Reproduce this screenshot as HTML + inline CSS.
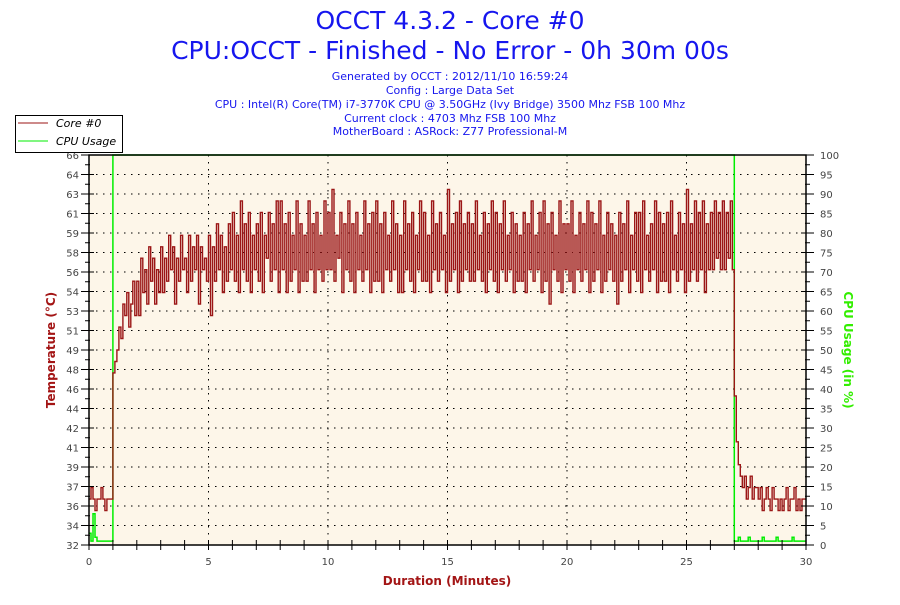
<!DOCTYPE html>
<html><head><meta charset="utf-8"><style>
body{margin:0;background:#fff;width:900px;height:600px;overflow:hidden;font-family:"Liberation Sans",sans-serif}
svg text{font-family:"DejaVu Sans","Liberation Sans",sans-serif}
</style></head><body>
<svg id="chart" width="900" height="600">
<text x="450" y="29" text-anchor="middle" font-size="25" fill="#1616ee">OCCT 4.3.2 - Core #0</text>
<text x="450" y="59" text-anchor="middle" font-size="25" fill="#1616ee">CPU:OCCT - Finished - No Error - 0h 30m 00s</text>
<g font-size="11" fill="#1616ee" text-anchor="middle">
<text x="450" y="80">Generated by OCCT : 2012/11/10 16:59:24</text>
<text x="450" y="94">Config : Large Data Set</text>
<text x="450" y="108">CPU : Intel(R) Core(TM) i7-3770K CPU @ 3.50GHz (Ivy Bridge) 3500 Mhz FSB 100 Mhz</text>
<text x="450" y="122">Current clock : 4703 Mhz FSB 100 Mhz</text>
<text x="450" y="135">MotherBoard : ASRock: Z77 Professional-M</text>
</g>
<rect x="89" y="155" width="717" height="390" fill="#fdf6e9"/>
<g id="grid"></g>
<g id="series"></g>
<g id="axes"></g>
<g>
<rect x="15.5" y="115.5" width="107" height="37" fill="#fff" stroke="#000"/>
<line x1="18" y1="123" x2="48" y2="123" stroke="#9b1616"/>
<text x="56" y="127" font-size="11" font-style="italic" fill="#000">Core #0</text>
<line x1="18" y1="141" x2="48" y2="141" stroke="#00ee00"/>
<text x="56" y="145" font-size="11" font-style="italic" fill="#000">CPU Usage</text>
</g>
<text transform="translate(55,350) rotate(-90)" text-anchor="middle" font-size="12" font-weight="bold" fill="#a31515">Temperature (°C)</text>
<text transform="translate(844,350) rotate(90)" text-anchor="middle" font-size="12" font-weight="bold" fill="#33ee00">CPU Usage (in %)</text>
<text x="447" y="585" text-anchor="middle" font-size="12" font-weight="bold" fill="#a31515">Duration (Minutes)</text>
</svg>
<script>
const xTicks=[0,5,10,15,20,25,30];
const tempTickLabels=[32,34,36,37,39,41,42,44,46,48,49,51,53,54,56,58,59,61,63,64,66];
const cpuTicks=[0,5,10,15,20,25,30,35,40,45,50,55,60,65,70,75,80,85,90,95,100];
const temps=[
36,37,36,35,36,36,37,36,35,36,36,36,
47,48,49,51,50,53,52,54,51,53,55,52,
55,52,57,54,56,53,58,55,57,53,56,54,
58,54,57,55,59,56,58,53,57,55,59,56,
57,54,59,55,58,56,59,53,58,56,57,55,
59,52,58,55,60,56,59,54,58,55,60,56,
61,55,59,54,62,56,60,55,61,54,59,56,
60,55,61,54,59,57,61,55,60,56,62,54,
62,56,60,54,61,55,59,56,62,54,60,55,
59,55,62,56,60,54,61,56,59,55,62,56,
61,56,63,55,59,57,61,54,60,56,62,55,
60,54,61,56,59,55,62,56,60,54,61,55,
62,55,60,54,61,56,59,55,62,56,60,54,
59,54,62,56,60,55,61,54,59,56,62,55,
61,55,59,54,62,56,60,55,61,56,59,54,
63,55,60,56,61,54,62,55,60,56,61,55,
60,55,62,56,59,55,61,54,60,56,62,55,
61,54,60,56,62,55,59,56,61,54,60,55,
59,55,61,54,60,56,62,55,59,56,61,54,
62,55,60,53,61,56,59,55,62,54,60,56,
60,55,62,54,59,56,61,55,60,56,62,54,
61,55,60,56,62,54,59,55,61,56,60,55,
59,53,61,55,60,56,62,54,59,56,61,55,
61,54,62,56,59,55,60,56,62,54,61,55,
60,55,61,54,62,56,59,55,61,56,60,54,
63,55,60,56,62,55,61,56,62,54,60,56,
61,56,62,57,61,56,62,56,61,57,62,56,
45,41,39,38,37,38,36,37,38,36,37,37,
36,37,35,36,37,36,35,37,36,36,35,36,
35,36,37,35,36,36,37,35,36,35,36,36,
36];
const cpuStart=[3,1,8,2,1,1,1,1,1,1,1,1];
const cpuTail=[1,1,2,1,1,1,1,2,1,1,1,1,1,1,2,1,1,1,1,1,1,2,1,1,1,1,1,1,1,2,1,1,1,1,1,1,1];
const cpu=cpuStart.slice();
for(let i=12;i<324;i++)cpu.push(100);
cpuTail.forEach(v=>cpu.push(v));
const L=89,R=806,T=155,B=545;
const xs=m=>L+m/30*(R-L);
const yT=t=>B-(t-32)/34*(B-T);
const yC=c=>B-c/100*(B-T);
const NS="http://www.w3.org/2000/svg";
function mk(tag,attrs,parent){const e=document.createElementNS(NS,tag);for(const k in attrs)e.setAttribute(k,attrs[k]);parent.appendChild(e);return e;}
const grid=document.getElementById('grid'),axes=document.getElementById('axes'),series=document.getElementById('series');
cpuTicks.forEach((c,i)=>{
 const y=yC(c);
 if(i>0&&i<cpuTicks.length-1){const g=mk('line',{x1:L,x2:R,y1:y,y2:y,stroke:'#000','stroke-dasharray':'1.5,5.5'},grid);
 
 }
 mk('line',{x1:L-8,x2:L+5,y1:y,y2:y,stroke:'#000'},axes);
 mk('line',{x1:R-5,x2:R+8,y1:y,y2:y,stroke:'#000'},axes);
 if(i<cpuTicks.length-1){const ym=yC(c+2.5);mk('line',{x1:L-4,x2:L+1,y1:ym,y2:ym,stroke:'#000'},axes);mk('line',{x1:R-1,x2:R+4,y1:ym,y2:ym,stroke:'#000'},axes);}
 const tl=mk('text',{x:L-10,y:y+4,'text-anchor':'end','font-size':'10',fill:'#444'},axes);tl.textContent=tempTickLabels[i];
 
 
 const cl=mk('text',{x:R+14,y:y+4,'font-size':'10',fill:'#444'},axes);cl.textContent=c;
 
 
});
for(let m=0;m<=30;m++){const x=xs(m);mk('line',{x1:x,x2:x,y1:B-5,y2:B+5,stroke:'#000'},axes);}
xTicks.forEach((m,i)=>{const x=xs(m);
 if(i>0&&i<xTicks.length-1){const g=mk('line',{x1:x,x2:x,y1:T,y2:B,stroke:'#000','stroke-dasharray':'1.5,5.5'},grid);
 
 }
 const t=mk('text',{x:x,y:B+20,'text-anchor':'middle','font-size':'10',fill:'#444'},axes);t.textContent=m;
 
 
});
function stepPath(vals,yf){
 const n=vals.length;let d='';
 vals.forEach((v,i)=>{const x=xs(i*30/(n-1)).toFixed(1),y=yf(v).toFixed(1);
  d+= i===0?('M'+x+','+y):(' H'+x+' V'+y);});
 return d;
}
const cl=mk('path',{d:stepPath(cpu,yC),fill:'none',stroke:'#00ee00','stroke-width':'1.5'},series);


const tline=mk('path',{d:stepPath(temps,yT),fill:'none',stroke:'#9b1616','stroke-width':'1.4'},series);


const fr=mk('rect',{x:L,y:T,width:R-L,height:B-T,fill:'none',stroke:'#000','stroke-width':'1.5'},axes);


</script>
</body></html>
